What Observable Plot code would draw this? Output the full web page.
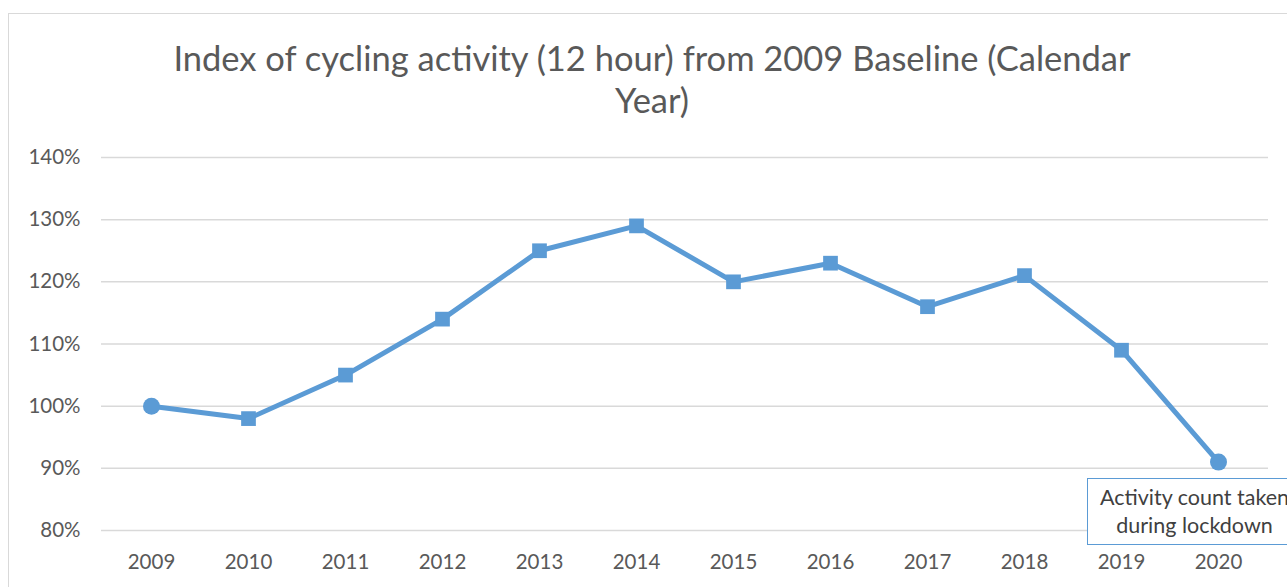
<!DOCTYPE html>
<html>
<head>
<meta charset="utf-8">
<script src="https://cdn.jsdelivr.net/npm/d3@7"></script>
<script src="https://cdn.jsdelivr.net/npm/@observablehq/plot@0.6"></script>
<style>
  html, body { margin: 0; padding: 0; background: #fff; }
  body { width: 1287px; height: 587px; overflow: hidden; position: relative; font-family: Lato, "Open Sans", sans-serif; }
  #frame { position: absolute; left: 8px; top: 13px; width: 1400px; height: 700px; border: 1.5px solid #d9d9d9; box-sizing: border-box; }
  #title { position: absolute; left: 0; top: 0; width: 1287px; height: 130px; text-align: center; color: #595959; font-size: 34.5px; line-height: 42px; }
  #title .inner { position: absolute; left: 100px; width: 1104px; top: 37px; }
  #chart { position: absolute; left: 0; top: 130px; }
  #note { position: absolute; left: 1087px; top: 478px; width: 215px; height: 67px; border: 1.5px solid #5b9bd5; box-sizing: border-box; background: #fff; color: #404040; font-size: 21.5px; line-height: 28px; text-align: center; padding-top: 4px; white-space: nowrap; }
</style>
</head>
<body>
<div id="frame"></div>
<div id="title"><div class="inner">Index of cycling activity (12 hour) from 2009 Baseline (Calendar<br>Year)</div></div>
<div id="chart"></div>
<div id="note">Activity count taken<br>during lockdown</div>
<script>
const years = ["2009","2010","2011","2012","2013","2014","2015","2016","2017","2018","2019","2020"];
const index = [1.00, 0.98, 1.05, 1.14, 1.25, 1.29, 1.20, 1.23, 1.16, 1.21, 1.09, 0.91];
const yTicks = [0.8, 0.9, 1.0, 1.1, 1.2, 1.3, 1.4];
const circleYears = ["2009", "2020"];

const data = years.map((y, i) => ({year: y, value: index[i], circle: circleYears.includes(y)}));
const color = "#5b9bd5";

const plot = Plot.plot({
  width: 1287,
  height: 457,
  marginLeft: 101,
  marginRight: 19,
  marginTop: 27,
  marginBottom: 57,
  style: {fontFamily: "Lato, 'Open Sans', sans-serif", fontSize: "20.5px", color: "#595959", background: "transparent", overflow: "visible"},
  x: {type: "point", domain: years, padding: 0.5, label: null},
  y: {domain: [0.8, 1.4], label: null},
  marks: [
    Plot.ruleY(yTicks, {stroke: "#d9d9d9", strokeWidth: 1.5}),
    Plot.axisY({ticks: yTicks, tickFormat: d => Math.round(d * 100) + "%", tickSize: 0, tickPadding: 21, label: null}),
    Plot.axisX({tickSize: 0, tickPadding: 24, label: null}),
    Plot.line(data, {x: "year", y: "value", stroke: color, strokeWidth: 5}),
    Plot.dot(data.filter(d => !d.circle), {x: "year", y: "value", symbol: "square", r: 8.3, fill: color}),
    Plot.dot(data.filter(d => d.circle), {x: "year", y: "value", symbol: "circle", r: 8.5, fill: color})
  ]
});
document.getElementById("chart").appendChild(plot);
</script>
</body>
</html>
